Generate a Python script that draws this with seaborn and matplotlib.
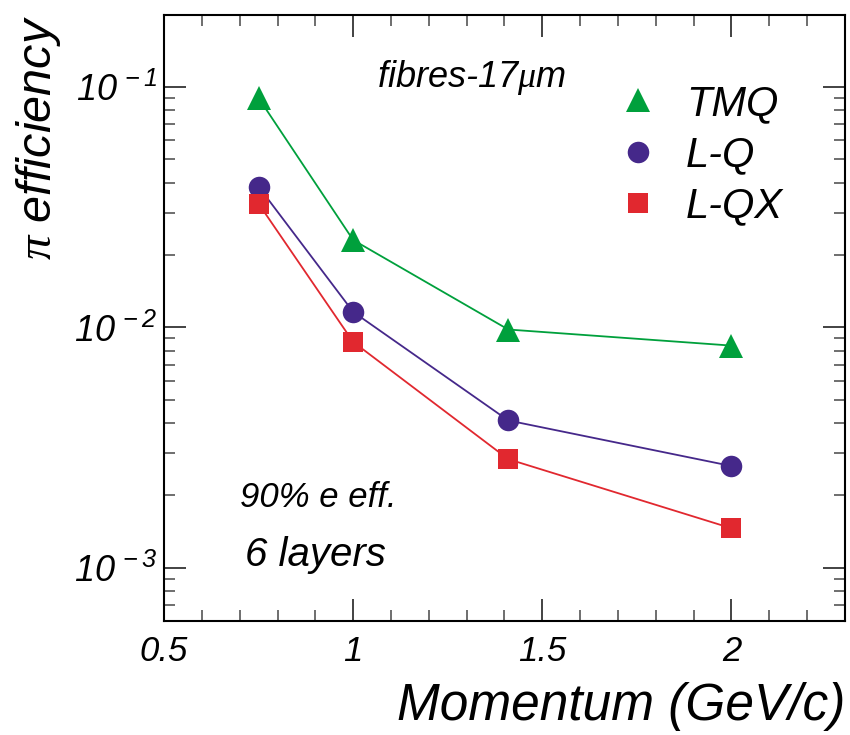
import matplotlib
matplotlib.use("Agg")
import matplotlib.pyplot as plt
import seaborn as sb
import numpy as np
import pandas as pd
from matplotlib.lines import Line2D
from matplotlib.ticker import FuncFormatter, MultipleLocator, LogLocator, NullFormatter

# data
momentum = [0.75, 1.0, 1.41, 2.0]
tmq = [0.090, 0.0231, 0.0098, 0.0084]
lq = [0.0385, 0.0116, 0.0041, 0.00265]
lqx = [0.0327, 0.0087, 0.00283, 0.00146]

methods = ["TMQ", "L-Q", "L-QX"]
colors = {"TMQ": "#00a03c", "L-Q": "#45288a", "L-QX": "#e1282f"}
markers = {"TMQ": "^", "L-Q": "o", "L-QX": "s"}
msizes = {"TMQ": 17, "L-Q": 15.5, "L-QX": 15}

df = pd.DataFrame({
	"momentum": momentum * 3,
	"eff": tmq + lq + lqx,
	"method": [m for m in methods for _ in momentum],
})

sb.set_style("ticks")
plt.rcParams["font.family"] = ["Liberation Sans", "DejaVu Sans"]
plt.rcParams["font.style"] = "italic"
plt.rcParams["mathtext.fontset"] = "custom"
plt.rcParams["mathtext.rm"] = "Liberation Sans:italic"
plt.rcParams["mathtext.it"] = "Liberation Sans:italic"
plt.rcParams["mathtext.sf"] = "Liberation Serif"
for key in ("text.color", "axes.labelcolor", "xtick.labelcolor", "ytick.labelcolor"):
	plt.rcParams[key] = "black"

fig = plt.figure(figsize=(8.5, 7.35), dpi=100)
ax = fig.add_axes([0.193, 0.155, 0.801, 0.825])

for m in methods:
	sb.lineplot(data=df[df.method == m], x="momentum", y="eff", color=colors[m],
		marker=markers[m], markersize=msizes[m], markeredgewidth=0, lw=1.3,
		ax=ax, legend=False)

ax.set_yscale("log")
ax.set_xlim(0.5, 2.3)
ax.set_ylim(6e-4, 0.2)

ax.xaxis.set_major_locator(MultipleLocator(0.5))
ax.xaxis.set_minor_locator(MultipleLocator(0.1))
ax.xaxis.set_major_formatter(FuncFormatter(lambda v, p: f"{v:g}"))
ax.yaxis.set_major_locator(LogLocator(base=10))
ax.yaxis.set_minor_locator(LogLocator(base=10, subs=np.arange(2, 10)))
ax.yaxis.set_minor_formatter(NullFormatter())
ax.yaxis.set_major_formatter(FuncFormatter(
	lambda v, p: r"$10^{\,%d}$" % int(round(np.log10(v)))))

ax.tick_params(which="both", direction="in", top=True, right=True, color="#222222")
ax.tick_params(which="major", length=16, width=1.2)
ax.tick_params(which="minor", length=8, width=1.2, color="#555555")
ax.tick_params(axis="x", which="major", labelsize=25, pad=10)
ax.tick_params(axis="y", which="major", labelsize=26, pad=5)
for s in ax.spines.values():
	s.set_linewidth(1.5)
	s.set_color("black")

ax.set_xlabel("Momentum (GeV/c)", fontsize=37, loc="right", labelpad=10)
ax.set_ylabel(r"$\mathsf{\pi}$ efficiency", fontsize=35, loc="top")
ax.yaxis.set_label_coords(-0.148, 1.0)

ax.text(0.452, 0.896, r"fibres-17$\mathsf{\mu}$m", transform=ax.transAxes,
	fontsize=26, ha="center", va="center")
ax.text(0.226, 0.203, "90% e eff.", transform=ax.transAxes,
	fontsize=25, ha="center", va="center")
ax.text(0.223, 0.109, "6 layers", transform=ax.transAxes,
	fontsize=29, ha="center", va="center")

handles = [Line2D([], [], ls="none", marker=markers[m], color=colors[m],
	markersize=msizes[m], markeredgewidth=0) for m in methods]
ax.legend(handles, methods, loc="upper left", bbox_to_anchor=(0.635, 0.92),
	frameon=False, fontsize=30, handlelength=1.0, handletextpad=0.65,
	labelspacing=0.27, borderpad=0)

plt.savefig("out.png", dpi=100)
